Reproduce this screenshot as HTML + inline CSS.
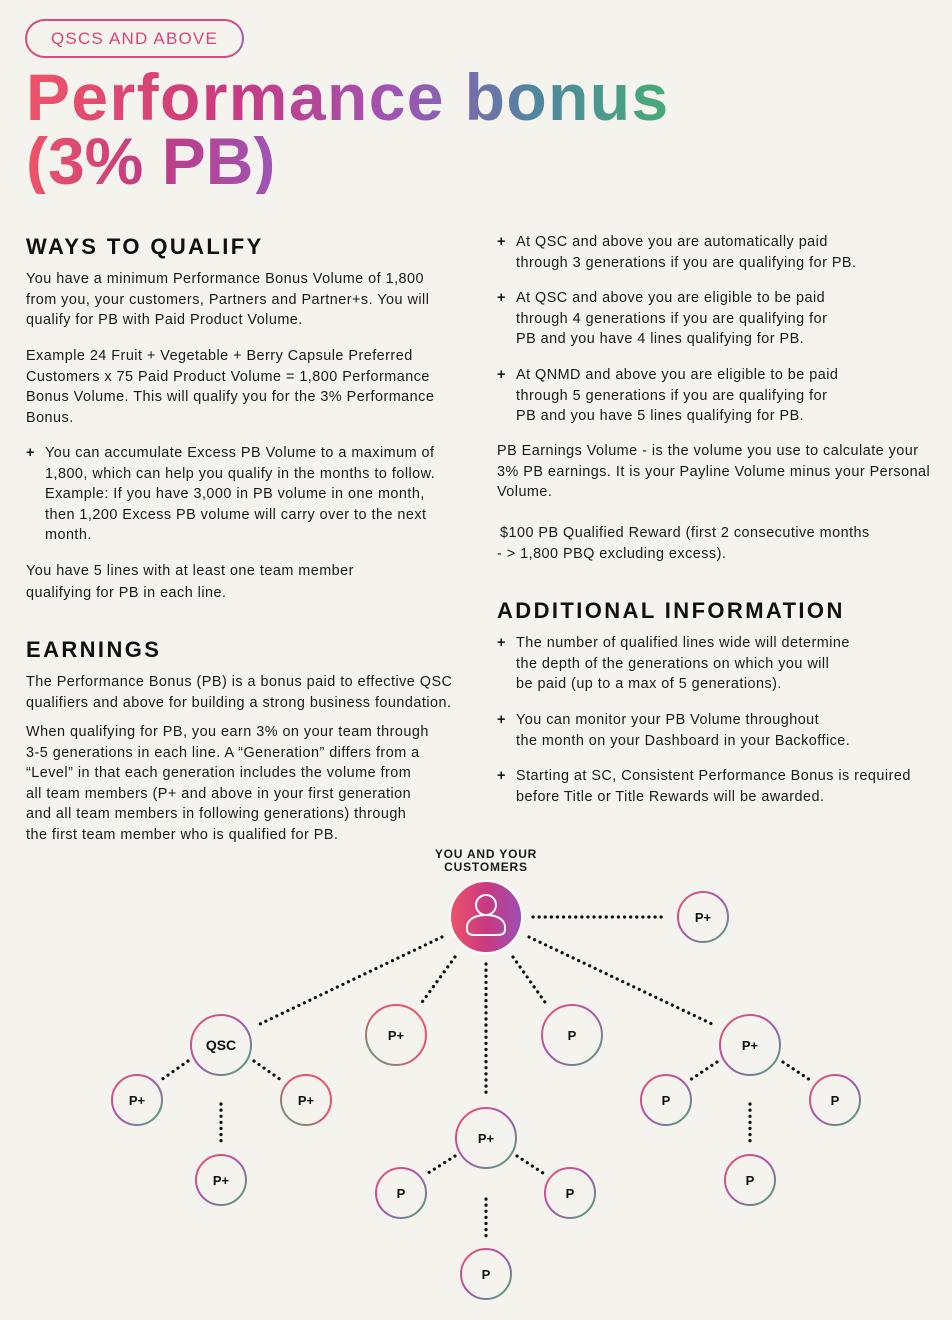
<!DOCTYPE html>
<html><head><meta charset="utf-8"><style>
body{margin:0;background:#f5f3ee;}
#p{position:relative;width:952px;height:1320px;overflow:hidden;background:#f5f3ee;font-family:"Liberation Sans",sans-serif;color:#1a1a1a;}
.t{position:absolute;font-size:14.4px;line-height:20.5px;white-space:nowrap;letter-spacing:0.48px;}
.h{position:absolute;font-size:22px;font-weight:bold;letter-spacing:2.4px;white-space:nowrap;color:#111;}
.grad{background:linear-gradient(90deg,#ee5468 0%,#c93a80 30%,#9d55b5 55%,#4f86a0 75%,#46ad75 95%);-webkit-background-clip:text;background-clip:text;color:transparent;}
</style></head><body><div id="p">
<div style="position:absolute;left:25px;top:19px;width:219px;height:39px;border-radius:20px;border:2px solid #d94a7e;border-right-color:#a55ab5;box-sizing:border-box;"></div>
<div style="position:absolute;left:25px;top:19px;width:219px;height:39px;line-height:39px;text-align:center;font-size:17px;letter-spacing:1.2px;color:#d6457a;">QSCS AND ABOVE</div>
<div class="grad" style="position:absolute;left:26px;top:64px;width:680px;font-size:66px;font-weight:bold;line-height:66px;white-space:nowrap;letter-spacing:1.4px;">Performance bonus</div>
<div style="position:absolute;left:26px;top:128px;font-size:66px;font-weight:bold;line-height:66px;white-space:nowrap;letter-spacing:0px;background:linear-gradient(90deg,#ee5468,#c23a82 50%,#9d55b5);-webkit-background-clip:text;background-clip:text;color:transparent;">(3% PB)</div>

<div class="h" style="left:26px;top:234px;">WAYS TO QUALIFY</div>
<div class="t" style="left:26px;top:269px;">You have a minimum Performance Bonus Volume of 1,800<br>from you, your customers, Partners and Partner+s. You will<br>qualify for PB with Paid Product Volume.</div>
<div class="t" style="left:26px;top:346px;">Example 24 Fruit + Vegetable + Berry Capsule Preferred<br>Customers x 75 Paid Product Volume = 1,800 Performance<br>Bonus Volume. This will qualify you for the 3% Performance<br>Bonus.</div>
<div class="t" style="left:26px;top:443px;font-weight:bold;">+</div>
<div class="t" style="left:45px;top:443px;">You can accumulate Excess PB Volume to a maximum of<br>1,800, which can help you qualify in the months to follow.<br>Example: If you have 3,000 in PB volume in one month,<br>then 1,200 Excess PB volume will carry over to the next<br>month.</div>
<div class="t" style="left:26px;top:561px;line-height:21.5px;">You have 5 lines with at least one team member<br>qualifying for PB in each line.</div>
<div class="h" style="left:26px;top:637px;">EARNINGS</div>
<div class="t" style="left:26px;top:672px;">The Performance Bonus (PB) is a bonus paid to effective QSC<br>qualifiers and above for building a strong business foundation.</div>
<div class="t" style="left:26px;top:722px;">When qualifying for PB, you earn 3% on your team through<br>3-5 generations in each line. A “Generation” differs from a<br>“Level” in that each generation includes the volume from<br>all team members (P+ and above in your first generation<br>and all team members in following generations) through<br>the first team member who is qualified for PB.</div>

<div class="t" style="left:497px;top:232px;font-weight:bold;">+</div>
<div class="t" style="left:516px;top:232px;">At QSC and above you are automatically paid<br>through 3 generations if you are qualifying for PB.</div>
<div class="t" style="left:497px;top:288px;font-weight:bold;">+</div>
<div class="t" style="left:516px;top:288px;">At QSC and above you are eligible to be paid<br>through 4 generations if you are qualifying for<br>PB and you have 4 lines qualifying for PB.</div>
<div class="t" style="left:497px;top:365px;font-weight:bold;">+</div>
<div class="t" style="left:516px;top:365px;">At QNMD and above you are eligible to be paid<br>through 5 generations if you are qualifying for<br>PB and you have 5 lines qualifying for PB.</div>
<div class="t" style="left:497px;top:441px;">PB Earnings Volume - is the volume you use to calculate your<br>3% PB earnings. It is your Payline Volume minus your Personal<br>Volume.</div>
<div class="t" style="left:500px;top:523px;">$100 PB Qualified Reward (first 2 consecutive months</div>
<div class="t" style="left:497px;top:544px;">- &gt; 1,800 PBQ excluding excess).</div>
<div class="h" style="left:497px;top:598px;">ADDITIONAL INFORMATION</div>
<div class="t" style="left:497px;top:633px;font-weight:bold;">+</div>
<div class="t" style="left:516px;top:633px;">The number of qualified lines wide will determine<br>the depth of the generations on which you will<br>be paid (up to a max of 5 generations).</div>
<div class="t" style="left:497px;top:710px;font-weight:bold;">+</div>
<div class="t" style="left:516px;top:710px;">You can monitor your PB Volume throughout<br>the month on your Dashboard in your Backoffice.</div>
<div class="t" style="left:497px;top:766px;font-weight:bold;">+</div>
<div class="t" style="left:516px;top:766px;">Starting at SC, Consistent Performance Bonus is required<br>before Title or Title Rewards will be awarded.</div>

<div style="position:absolute;left:386px;top:848px;width:200px;text-align:center;font-size:12px;font-weight:bold;line-height:13px;letter-spacing:0.8px;">YOU AND YOUR<br>CUSTOMERS</div>

<svg width="952" height="1320" style="position:absolute;left:0;top:0" font-family="Liberation Sans, sans-serif">
<defs>
<linearGradient id="g1" x1="0" y1="0" x2="1" y2="1"><stop offset="0" stop-color="#ee5468"/><stop offset="0.5" stop-color="#a455b0"/><stop offset="1" stop-color="#46ad75"/></linearGradient>
<linearGradient id="g2" x1="1" y1="0" x2="0" y2="1"><stop offset="0" stop-color="#ee5468"/><stop offset="0.5" stop-color="#e8506e"/><stop offset="1" stop-color="#46ad75"/></linearGradient>
<linearGradient id="gc" x1="0" y1="0" x2="1" y2="0"><stop offset="0" stop-color="#ee5468"/><stop offset="0.5" stop-color="#c93a80"/><stop offset="1" stop-color="#9a50b5"/></linearGradient>
</defs>
<g stroke="#111" stroke-width="3.2" stroke-linecap="round" stroke-dasharray="0.1 6" fill="none">
<line x1="533" y1="917" x2="665" y2="917"/>
<line x1="442" y1="937" x2="260" y2="1024"/>
<line x1="455" y1="957" x2="420" y2="1005"/>
<line x1="486" y1="964" x2="486" y2="1096"/>
<line x1="513" y1="957" x2="547" y2="1005"/>
<line x1="529" y1="937" x2="712" y2="1024"/>
<line x1="188" y1="1061" x2="161" y2="1080"/>
<line x1="254" y1="1061" x2="281" y2="1080"/>
<line x1="221" y1="1104" x2="221" y2="1146"/>
<line x1="455" y1="1156" x2="425" y2="1175"/>
<line x1="517" y1="1156" x2="546" y2="1175"/>
<line x1="486" y1="1199" x2="486" y2="1240"/>
<line x1="717" y1="1062" x2="690" y2="1080"/>
<line x1="783" y1="1062" x2="810" y2="1080"/>
<line x1="750" y1="1104" x2="750" y2="1146"/>
</g>
<circle cx="486" cy="917" r="36" fill="url(#gc)" stroke="#fff" stroke-width="2"/>
<g stroke="#fff" stroke-width="2" fill="none"><circle cx="486" cy="905" r="10"/><path d="M486 915 c-13 0 -20 6 -19 14 c0 5 3 6 8 6 h22 c5 0 8 -1 8 -6 c1 -8 -6 -14 -19 -14z"/></g>
<g fill="none" stroke-width="2">
<circle cx="703" cy="917" r="25" stroke="url(#g1)"/>
<circle cx="221" cy="1045" r="30" stroke="url(#g1)"/>
<circle cx="396" cy="1035" r="30" stroke="url(#g2)"/>
<circle cx="572" cy="1035" r="30" stroke="url(#g1)"/>
<circle cx="750" cy="1045" r="30" stroke="url(#g1)"/>
<circle cx="486" cy="1138" r="30" stroke="url(#g1)"/>
<circle cx="137" cy="1100" r="25" stroke="url(#g1)"/>
<circle cx="306" cy="1100" r="25" stroke="url(#g2)"/>
<circle cx="221" cy="1180" r="25" stroke="url(#g1)"/>
<circle cx="401" cy="1193" r="25" stroke="url(#g1)"/>
<circle cx="570" cy="1193" r="25" stroke="url(#g1)"/>
<circle cx="486" cy="1274" r="25" stroke="url(#g1)"/>
<circle cx="666" cy="1100" r="25" stroke="url(#g1)"/>
<circle cx="835" cy="1100" r="25" stroke="url(#g1)"/>
<circle cx="750" cy="1180" r="25" stroke="url(#g1)"/>
</g>
<g font-size="13" font-weight="bold" text-anchor="middle" fill="#111">
<text x="703" y="922">P+</text>
<text x="221" y="1050" font-size="14">QSC</text>
<text x="396" y="1040">P+</text>
<text x="572" y="1040">P</text>
<text x="750" y="1050">P+</text>
<text x="486" y="1143">P+</text>
<text x="137" y="1105">P+</text>
<text x="306" y="1105">P+</text>
<text x="221" y="1185">P+</text>
<text x="401" y="1198">P</text>
<text x="570" y="1198">P</text>
<text x="486" y="1279">P</text>
<text x="666" y="1105">P</text>
<text x="835" y="1105">P</text>
<text x="750" y="1185">P</text>
</g>
</svg>
</div></body></html>
